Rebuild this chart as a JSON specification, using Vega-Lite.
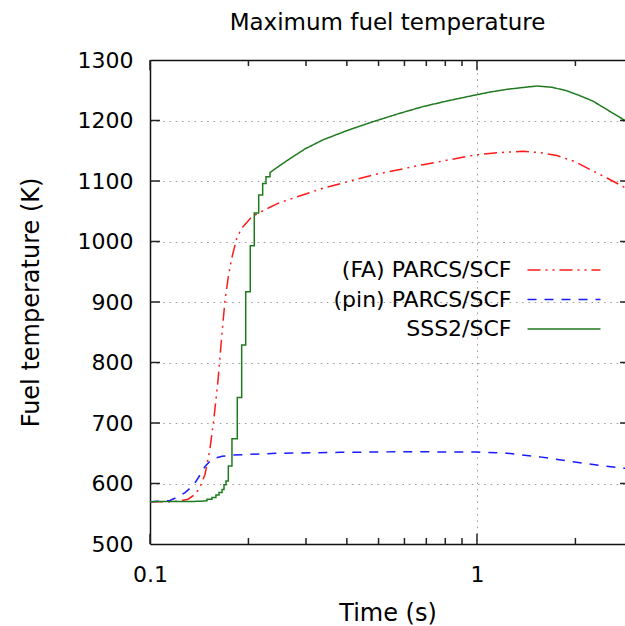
{
  "$schema": "https://vega.github.io/schema/vega-lite/v6.json",
  "width": 475,
  "height": 484,
  "autosize": "none",
  "padding": {"left": 150, "top": 60, "right": 0, "bottom": 82},
  "background": "white",
  "title": {"text": "Maximum fuel temperature", "font": "DejaVu Sans", "fontSize": 23, "fontWeight": "normal", "color": "black", "anchor": "middle", "offset": 14.5},
  "config": {
    "view": {"stroke": null},
    "axis": {"labelFont": "DejaVu Sans", "labelFontSize": 22, "labelColor": "black", "titleFont": "DejaVu Sans", "titleFontSize": 24, "titleFontWeight": "normal", "titleColor": "black", "domainColor": "#111", "domainWidth": 1.5, "tickColor": "#222", "tickWidth": 1.5, "gridColor": "#999", "gridDash": [1.5, 4.8], "gridWidth": 1}
  },
  "data": {"values": [
    {"series": "(FA) PARCS/SCF", "t": 0.1, "T": 570},
    {"series": "(FA) PARCS/SCF", "t": 0.1151, "T": 570},
    {"series": "(FA) PARCS/SCF", "t": 0.1235, "T": 571},
    {"series": "(FA) PARCS/SCF", "t": 0.1307, "T": 574},
    {"series": "(FA) PARCS/SCF", "t": 0.1373, "T": 582},
    {"series": "(FA) PARCS/SCF", "t": 0.1422, "T": 594},
    {"series": "(FA) PARCS/SCF", "t": 0.1473, "T": 615},
    {"series": "(FA) PARCS/SCF", "t": 0.1526, "T": 658},
    {"series": "(FA) PARCS/SCF", "t": 0.1569, "T": 708},
    {"series": "(FA) PARCS/SCF", "t": 0.1614, "T": 770},
    {"series": "(FA) PARCS/SCF", "t": 0.1657, "T": 843},
    {"series": "(FA) PARCS/SCF", "t": 0.1696, "T": 903},
    {"series": "(FA) PARCS/SCF", "t": 0.1736, "T": 942},
    {"series": "(FA) PARCS/SCF", "t": 0.1777, "T": 972},
    {"series": "(FA) PARCS/SCF", "t": 0.1841, "T": 1005},
    {"series": "(FA) PARCS/SCF", "t": 0.1907, "T": 1022},
    {"series": "(FA) PARCS/SCF", "t": 0.2047, "T": 1041},
    {"series": "(FA) PARCS/SCF", "t": 0.2275, "T": 1054},
    {"series": "(FA) PARCS/SCF", "t": 0.2463, "T": 1063},
    {"series": "(FA) PARCS/SCF", "t": 0.268, "T": 1070},
    {"series": "(FA) PARCS/SCF", "t": 0.3381, "T": 1088},
    {"series": "(FA) PARCS/SCF", "t": 0.4808, "T": 1110},
    {"series": "(FA) PARCS/SCF", "t": 0.6838, "T": 1127},
    {"series": "(FA) PARCS/SCF", "t": 0.986, "T": 1143},
    {"series": "(FA) PARCS/SCF", "t": 1.176, "T": 1147},
    {"series": "(FA) PARCS/SCF", "t": 1.382, "T": 1149},
    {"series": "(FA) PARCS/SCF", "t": 1.558, "T": 1147},
    {"series": "(FA) PARCS/SCF", "t": 1.756, "T": 1142},
    {"series": "(FA) PARCS/SCF", "t": 1.994, "T": 1132},
    {"series": "(FA) PARCS/SCF", "t": 2.215, "T": 1119},
    {"series": "(FA) PARCS/SCF", "t": 2.498, "T": 1105},
    {"series": "(FA) PARCS/SCF", "t": 2.836, "T": 1089},
    {"series": "(pin) PARCS/SCF", "t": 0.1, "T": 570},
    {"series": "(pin) PARCS/SCF", "t": 0.1096, "T": 571},
    {"series": "(pin) PARCS/SCF", "t": 0.1151, "T": 572},
    {"series": "(pin) PARCS/SCF", "t": 0.1218, "T": 578},
    {"series": "(pin) PARCS/SCF", "t": 0.128, "T": 585},
    {"series": "(pin) PARCS/SCF", "t": 0.1325, "T": 592},
    {"series": "(pin) PARCS/SCF", "t": 0.1373, "T": 601},
    {"series": "(pin) PARCS/SCF", "t": 0.1422, "T": 614},
    {"series": "(pin) PARCS/SCF", "t": 0.1473, "T": 628},
    {"series": "(pin) PARCS/SCF", "t": 0.1526, "T": 637},
    {"series": "(pin) PARCS/SCF", "t": 0.158, "T": 642},
    {"series": "(pin) PARCS/SCF", "t": 0.1661, "T": 645},
    {"series": "(pin) PARCS/SCF", "t": 0.1794, "T": 647},
    {"series": "(pin) PARCS/SCF", "t": 0.2445, "T": 650},
    {"series": "(pin) PARCS/SCF", "t": 0.3811, "T": 651.5},
    {"series": "(pin) PARCS/SCF", "t": 0.5814, "T": 652.5},
    {"series": "(pin) PARCS/SCF", "t": 0.993, "T": 652},
    {"series": "(pin) PARCS/SCF", "t": 1.235, "T": 650},
    {"series": "(pin) PARCS/SCF", "t": 1.558, "T": 644},
    {"series": "(pin) PARCS/SCF", "t": 1.966, "T": 636},
    {"series": "(pin) PARCS/SCF", "t": 2.378, "T": 630},
    {"series": "(pin) PARCS/SCF", "t": 2.836, "T": 625},
    {"series": "SSS2/SCF", "t": 0.1, "T": 570},
    {"series": "SSS2/SCF", "t": 0.1422, "T": 570.5},
    {"series": "SSS2/SCF", "t": 0.1494, "T": 571.5},
    {"series": "SSS2/SCF", "t": 0.1494, "T": 574},
    {"series": "SSS2/SCF", "t": 0.1547, "T": 574},
    {"series": "SSS2/SCF", "t": 0.1547, "T": 577},
    {"series": "SSS2/SCF", "t": 0.1591, "T": 577},
    {"series": "SSS2/SCF", "t": 0.1591, "T": 581},
    {"series": "SSS2/SCF", "t": 0.1626, "T": 581},
    {"series": "SSS2/SCF", "t": 0.1626, "T": 585},
    {"series": "SSS2/SCF", "t": 0.1661, "T": 585},
    {"series": "SSS2/SCF", "t": 0.1661, "T": 590},
    {"series": "SSS2/SCF", "t": 0.1684, "T": 590},
    {"series": "SSS2/SCF", "t": 0.1684, "T": 598},
    {"series": "SSS2/SCF", "t": 0.1708, "T": 598},
    {"series": "SSS2/SCF", "t": 0.1708, "T": 604},
    {"series": "SSS2/SCF", "t": 0.1736, "T": 604},
    {"series": "SSS2/SCF", "t": 0.1736, "T": 629},
    {"series": "SSS2/SCF", "t": 0.1781, "T": 629},
    {"series": "SSS2/SCF", "t": 0.1781, "T": 674},
    {"series": "SSS2/SCF", "t": 0.1849, "T": 674},
    {"series": "SSS2/SCF", "t": 0.1849, "T": 742},
    {"series": "SSS2/SCF", "t": 0.1907, "T": 742},
    {"series": "SSS2/SCF", "t": 0.1907, "T": 829},
    {"series": "SSS2/SCF", "t": 0.1962, "T": 829},
    {"series": "SSS2/SCF", "t": 0.1962, "T": 917},
    {"series": "SSS2/SCF", "t": 0.2026, "T": 917},
    {"series": "SSS2/SCF", "t": 0.2026, "T": 993},
    {"series": "SSS2/SCF", "t": 0.2084, "T": 993},
    {"series": "SSS2/SCF", "t": 0.2084, "T": 1047},
    {"series": "SSS2/SCF", "t": 0.215, "T": 1047},
    {"series": "SSS2/SCF", "t": 0.215, "T": 1077},
    {"series": "SSS2/SCF", "t": 0.2211, "T": 1077},
    {"series": "SSS2/SCF", "t": 0.2211, "T": 1096},
    {"series": "SSS2/SCF", "t": 0.2263, "T": 1096},
    {"series": "SSS2/SCF", "t": 0.2263, "T": 1107},
    {"series": "SSS2/SCF", "t": 0.2328, "T": 1107},
    {"series": "SSS2/SCF", "t": 0.2328, "T": 1114},
    {"series": "SSS2/SCF", "t": 0.2412, "T": 1120},
    {"series": "SSS2/SCF", "t": 0.2533, "T": 1128},
    {"series": "SSS2/SCF", "t": 0.268, "T": 1137},
    {"series": "SSS2/SCF", "t": 0.2979, "T": 1153},
    {"series": "SSS2/SCF", "t": 0.3381, "T": 1168},
    {"series": "SSS2/SCF", "t": 0.4032, "T": 1184},
    {"series": "SSS2/SCF", "t": 0.4808, "T": 1198},
    {"series": "SSS2/SCF", "t": 0.5733, "T": 1211},
    {"series": "SSS2/SCF", "t": 0.6838, "T": 1223},
    {"series": "SSS2/SCF", "t": 0.821, "T": 1233},
    {"series": "SSS2/SCF", "t": 0.986, "T": 1242},
    {"series": "SSS2/SCF", "t": 1.096, "T": 1247},
    {"series": "SSS2/SCF", "t": 1.235, "T": 1251.5},
    {"series": "SSS2/SCF", "t": 1.354, "T": 1254},
    {"series": "SSS2/SCF", "t": 1.526, "T": 1257},
    {"series": "SSS2/SCF", "t": 1.696, "T": 1255},
    {"series": "SSS2/SCF", "t": 1.885, "T": 1249},
    {"series": "SSS2/SCF", "t": 2.065, "T": 1241},
    {"series": "SSS2/SCF", "t": 2.263, "T": 1232},
    {"series": "SSS2/SCF", "t": 2.378, "T": 1225},
    {"series": "SSS2/SCF", "t": 2.551, "T": 1215},
    {"series": "SSS2/SCF", "t": 2.68, "T": 1208},
    {"series": "SSS2/SCF", "t": 2.836, "T": 1200}
  ]},
  "resolve": {"axis": {"x": "independent", "y": "independent"}},
  "layer": [
    {
      "mark": {"type": "line", "strokeWidth": 1.5, "clip": true},
      "encoding": {
        "x": {"field": "t", "type": "quantitative", "scale": {"type": "log", "domain": [0.1, 2.836], "nice": false},
          "axis": {"orient": "bottom", "title": "Time (s)", "titlePadding": 16.5,
            "values": [0.1, 1], "format": "~g", "ticks": false, "tickSize": 0,
            "grid": true, "labelPadding": 20, "labelFlush": false}},
        "y": {"field": "T", "type": "quantitative", "scale": {"domain": [500, 1300], "nice": false},
          "axis": {"orient": "left", "title": "Fuel temperature (K)", "titlePadding": 34, "format": "d",
            "values": [500, 600, 700, 800, 900, 1000, 1100, 1200, 1300],
            "ticks": false, "tickSize": 0, "grid": true, "labelPadding": 17}},
        "color": {"field": "series", "type": "nominal",
          "scale": {"domain": ["(FA) PARCS/SCF", "(pin) PARCS/SCF", "SSS2/SCF"], "range": ["#ff1a1a", "#1a1aff", "#1f7a1f"]},
          "legend": {"title": null, "orient": "none", "legendX": 403, "legendY": 199,
            "symbolType": "M-4,0H4", "symbolSize": 333, "symbolStrokeWidth": 1.5, "rowPadding": 7.5,
            "labelFont": "DejaVu Sans", "labelFontSize": 22, "labelColor": "black",
            "labelAlign": "right", "labelOffset": -63.5, "labelLimit": 400}},
        "strokeDash": {"field": "series", "type": "nominal",
          "scale": {"domain": ["(FA) PARCS/SCF", "(pin) PARCS/SCF", "SSS2/SCF"], "range": [[13, 5, 2, 5, 2, 5], [9, 8], [1, 0]]},
          "legend": {"title": null, "orient": "none", "legendX": 403, "legendY": 199,
            "symbolType": "M-4,0H4", "symbolSize": 333, "symbolStrokeWidth": 1.5, "rowPadding": 7.5,
            "labelFont": "DejaVu Sans", "labelFontSize": 22, "labelColor": "black",
            "labelAlign": "right", "labelOffset": -63.5, "labelLimit": 400}}
      }
    },
    {
      "mark": {"type": "line", "opacity": 0},
      "encoding": {
        "x": {"field": "t", "type": "quantitative", "scale": {"type": "log", "domain": [0.1, 2.836], "nice": false},
          "axis": {"orient": "top", "title": null, "labels": false, "grid": false, "ticks": false, "tickSize": 0, "values": [0.1]}},
        "y": {"field": "T", "type": "quantitative", "scale": {"domain": [500, 1300], "nice": false}, "axis": null},
        "detail": {"field": "series", "type": "nominal"}
      }
    },
    {
      "data": {"values": [{"t": 0.1}, {"t": 1}]},
      "mark": {"type": "rule", "color": "#222", "strokeWidth": 1.5},
      "encoding": {
        "x": {"field": "t", "type": "quantitative", "scale": {"type": "log", "domain": [0.1, 2.836], "nice": false}, "axis": null},
        "y": {"datum": 500, "type": "quantitative", "scale": {"domain": [500, 1300], "nice": false}, "axis": null},
        "y2": {"datum": 517}
      }
    },
    {
      "data": {"values": [{"t": 0.1}, {"t": 1}]},
      "mark": {"type": "rule", "color": "#222", "strokeWidth": 1.5},
      "encoding": {
        "x": {"field": "t", "type": "quantitative", "scale": {"type": "log", "domain": [0.1, 2.836], "nice": false}, "axis": null},
        "y": {"datum": 1300, "type": "quantitative", "scale": {"domain": [500, 1300], "nice": false}, "axis": null},
        "y2": {"datum": 1283}
      }
    },
    {
      "data": {"values": [{"t": 0.2}, {"t": 0.3}, {"t": 0.4}, {"t": 0.5}, {"t": 0.6}, {"t": 0.7}, {"t": 0.8}, {"t": 0.9}, {"t": 2}]},
      "mark": {"type": "rule", "color": "#222", "strokeWidth": 1.5},
      "encoding": {
        "x": {"field": "t", "type": "quantitative", "scale": {"type": "log", "domain": [0.1, 2.836], "nice": false}, "axis": null},
        "y": {"datum": 500, "type": "quantitative", "scale": {"domain": [500, 1300], "nice": false}, "axis": null},
        "y2": {"datum": 510}
      }
    },
    {
      "data": {"values": [{"t": 0.2}, {"t": 0.3}, {"t": 0.4}, {"t": 0.5}, {"t": 0.6}, {"t": 0.7}, {"t": 0.8}, {"t": 0.9}, {"t": 2}]},
      "mark": {"type": "rule", "color": "#222", "strokeWidth": 1.5},
      "encoding": {
        "x": {"field": "t", "type": "quantitative", "scale": {"type": "log", "domain": [0.1, 2.836], "nice": false}, "axis": null},
        "y": {"datum": 1300, "type": "quantitative", "scale": {"domain": [500, 1300], "nice": false}, "axis": null},
        "y2": {"datum": 1290}
      }
    },
    {
      "data": {"values": [{"T": 600}, {"T": 700}, {"T": 800}, {"T": 900}, {"T": 1000}, {"T": 1100}, {"T": 1200}]},
      "mark": {"type": "rule", "color": "#222", "strokeWidth": 1.5},
      "encoding": {
        "y": {"field": "T", "type": "quantitative", "scale": {"domain": [500, 1300], "nice": false}, "axis": null},
        "x": {"datum": 0.1, "type": "quantitative", "scale": {"type": "log", "domain": [0.1, 2.836], "nice": false}, "axis": null},
        "x2": {"datum": 0.1073}
      }
    },
    {
      "data": {"values": [{"T": 600}, {"T": 700}, {"T": 800}, {"T": 900}, {"T": 1000}, {"T": 1100}, {"T": 1200}]},
      "mark": {"type": "rule", "color": "#222", "strokeWidth": 1.5},
      "encoding": {
        "y": {"field": "T", "type": "quantitative", "scale": {"domain": [500, 1300], "nice": false}, "axis": null},
        "x": {"datum": 2.738, "type": "quantitative", "scale": {"type": "log", "domain": [0.1, 2.836], "nice": false}, "axis": null},
        "x2": {"datum": 2.836}
      }
    }
  ]
}
